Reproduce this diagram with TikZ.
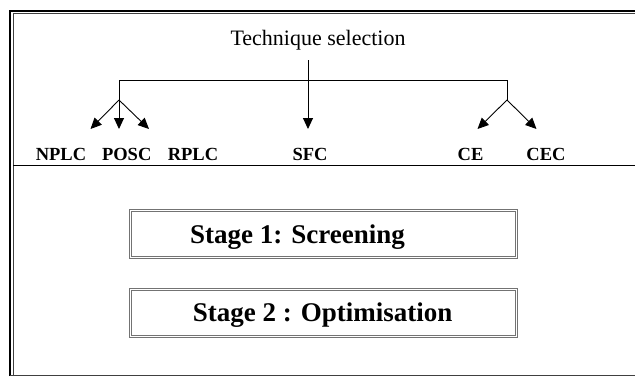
\documentclass[tikz,border=0pt]{standalone}
\usepackage{fontspec}
\setmainfont{Liberation Serif}
\usetikzlibrary{arrows.meta}

\tikzset{
  link/.style={line width=0.9pt, draw=black},
  tipped/.style={link, -{Triangle[length=11pt,width=10pt]}},
  titletext/.style={font=\fontsize{22}{26}\selectfont, inner sep=0pt, anchor=base},
  methodtext/.style={font=\fontsize{18.5}{22}\selectfont\bfseries, inner sep=0pt, anchor=base},
  stagetext/.style={font=\fontsize{27}{32}\selectfont\bfseries, inner sep=0pt, anchor=base west},
  stagebox/.style={draw=black!55, line width=1pt, double=white, double distance=1pt,
                   minimum width=385.5pt, minimum height=47pt, inner sep=0pt, outer sep=0pt},
}

\begin{document}
\begin{tikzpicture}[x=1pt, y=-1pt]
  \useasboundingbox (0,0) rectangle (635,376);

  % outer frame: heavy rule with a thin inner rule on the top and left sides
  \draw[line width=2.2pt, black] (10.2,376) -- (10.2,10.6) -- (635,10.6);
  \draw[line width=0.8pt, black!75] (13,376) -- (13,13.2) -- (635,13.2);
  \draw[line width=1.2pt, black!75] (10,375.4) -- (635,375.4);

  % divider between the technique tree and the stages
  \draw[line width=1pt] (13,165) -- (635,165);

  % heading
  \node[titletext] (title) at (318,45.5) {Technique selection};

  % branch points and arrow ends
  \coordinate (stem)   at (308,60);
  \coordinate (sfcend) at (308,129);
  \coordinate (barL)   at (119,80);
  \coordinate (barR)   at (507,80);
  \coordinate (hubL)   at (119,100);
  \coordinate (hubR)   at (507,100);
  \coordinate (toNPLC) at (90.5,129);
  \coordinate (toPOSC) at (119,129);
  \coordinate (toRPLC) at (149,129);
  \coordinate (toCE)   at (477.5,129);
  \coordinate (toCEC)  at (536.5,129);

  % bracket and arrows
  \draw[link] (hubL) -- (barL) -- (barR) -- (hubR);
  \draw[tipped] (stem) -- (sfcend);
  \draw[tipped] (hubL) -- (toNPLC);
  \draw[tipped] (hubL) -- (toPOSC);
  \draw[tipped] (hubL) -- (toRPLC);
  \draw[tipped] (hubR) -- (toCE);
  \draw[tipped] (hubR) -- (toCEC);

  % technique labels
  \node[methodtext] (nplc) at (61,160.5)    {NPLC};
  \node[methodtext] (posc) at (126.7,160.5) {POSC};
  \node[methodtext] (rplc) at (193,160.5)   {RPLC};
  \node[methodtext] (sfc)  at (310,160.5)   {SFC};
  \node[methodtext] (ce)   at (470.5,160.5) {CE};
  \node[methodtext] (cec)  at (546,160.5)   {CEC};

  % stages
  \node[stagebox] (box1) at (323.25,234) {};
  \node[stagebox] (box2) at (323.25,313) {};
  \node[stagetext] (stage1) at (190,243.5)   {Stage 1: Screening};
  \node[stagetext] (stage2) at (192.7,321.5) {Stage 2 : Optimisation};
\end{tikzpicture}
\end{document}
